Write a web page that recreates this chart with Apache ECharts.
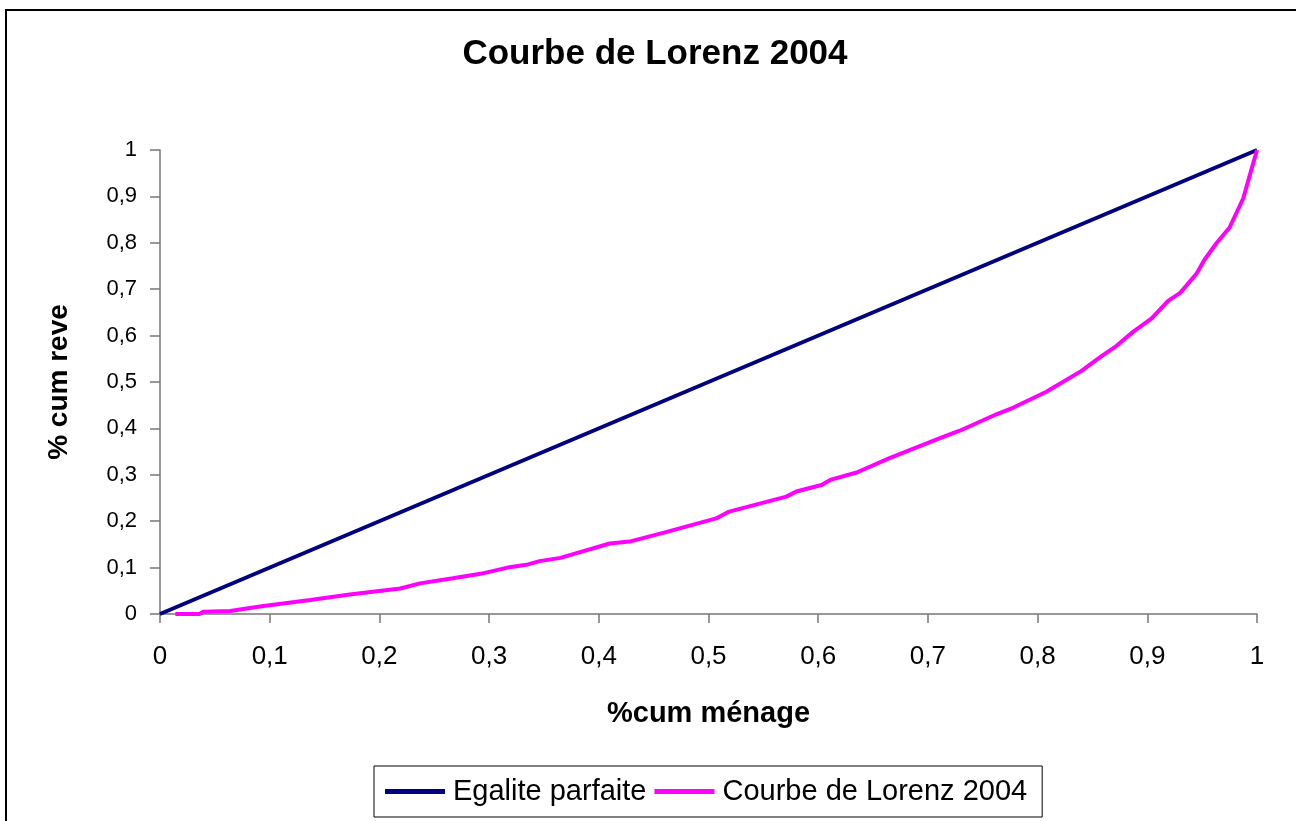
<!DOCTYPE html>
<html>
<head>
<meta charset="utf-8">
<title>Courbe de Lorenz 2004</title>
<script src="https://cdn.jsdelivr.net/npm/echarts@6/dist/echarts.min.js"></script>
<style>
  html, body { margin: 0; padding: 0; background: #fff; }
  #lorenzChart { width: 1296px; height: 821px; }
</style>
</head>
<body>
<div id="lorenzChart"></div>
<script>
// valeurs
const egaliteX = [0, 1];
const egaliteY = [0, 1];

const lorenzX = [0.014, 0.036, 0.0395, 0.064, 0.091, 0.137, 0.173, 0.219, 0.237, 0.267,
  0.295, 0.317, 0.334, 0.346, 0.365, 0.41, 0.428, 0.462, 0.507, 0.518,
  0.571, 0.58, 0.603, 0.611, 0.635, 0.665, 0.711, 0.729, 0.763, 0.778,
  0.808, 0.84, 0.858, 0.872, 0.887, 0.904, 0.919, 0.93, 0.945, 0.952,
  0.963, 0.975, 0.9875, 0.993, 1.0];
const lorenzY = [0, 0, 0.005, 0.0065, 0.016, 0.03, 0.042, 0.055, 0.066, 0.077,
  0.088, 0.1, 0.106, 0.114, 0.121, 0.152, 0.156, 0.177, 0.206, 0.22,
  0.253, 0.264, 0.278, 0.289, 0.305, 0.336, 0.379, 0.395, 0.431, 0.445,
  0.479, 0.524, 0.555, 0.578, 0.608, 0.637, 0.675, 0.692, 0.734, 0.763,
  0.799, 0.833, 0.896, 0.942, 1.0];

const seriesNames = ['Egalite parfaite', 'Courbe de Lorenz 2004'];
const FONT = 'Arial, "Liberation Sans", sans-serif';

function pairs(xs, ys) {
  return xs.map((x, i) => [x, ys[i]]);
}

// 0.1 -> "0,1"
function virgule(v) {
  return String(Math.round(v * 10) / 10).replace('.', ',');
}

const chart = echarts.init(document.getElementById('lorenzChart'));
chart.setOption({
  backgroundColor: '#fff',
  animation: false,
  title: {
    text: 'Courbe de Lorenz 2004',
    left: 650,
    top: 32,
    textAlign: 'center',
    textStyle: { fontFamily: FONT, fontSize: 35, fontWeight: 'bold', color: '#000' },
  },
  graphic: [
    {
      type: 'rect',
      shape: { x: 6, y: 10, width: 1400, height: 1000 },
      style: { fill: 'none', stroke: '#000', lineWidth: 2 },
      silent: true,
    },
  ],
  legend: {
    data: seriesNames,
    left: 374,
    top: 766,
    padding: [11, 15, 11, 11],
    itemGap: 8,
    itemWidth: 60,
    itemHeight: 5,
    icon: 'rect',
    borderColor: '#000',
    borderWidth: 1,
    textStyle: { fontFamily: FONT, fontSize: 29, color: '#000', padding: [0, 0, 0, 3] },
  },
  grid: {
    left: 160,
    right: 39,
    top: 150,
    bottom: 207,
  },
  xAxis: {
    type: 'value',
    min: 0,
    max: 1,
    interval: 0.1,
    name: '%cum ménage',
    nameLocation: 'middle',
    nameGap: 85,
    nameTextStyle: { fontFamily: FONT, fontSize: 29, fontWeight: 'bold', color: '#000' },
    axisLine: { show: true, lineStyle: { color: '#777', width: 1.5 } },
    axisTick: { show: true, length: 9, lineStyle: { color: '#777', width: 1.5 } },
    axisLabel: { formatter: virgule, margin: 30, fontFamily: FONT, fontSize: 26, color: '#000' },
    splitLine: { show: false },
  },
  yAxis: {
    type: 'value',
    min: 0,
    max: 1,
    interval: 0.1,
    name: '% cum reve',
    nameLocation: 'middle',
    nameGap: 87,
    nameTextStyle: { fontFamily: FONT, fontSize: 28, fontWeight: 'bold', color: '#000' },
    axisLine: { show: true, lineStyle: { color: '#777', width: 1.5 } },
    axisTick: { show: true, length: 10, lineStyle: { color: '#777', width: 1.5 } },
    axisLabel: { formatter: virgule, margin: 23, fontFamily: FONT, fontSize: 22, color: '#000' },
    splitLine: { show: false },
  },
  series: [
    {
      name: seriesNames[0],
      type: 'line',
      data: pairs(egaliteX, egaliteY),
      showSymbol: false,
      color: '#000080',
      lineStyle: { width: 4, color: '#000080' },
    },
    {
      name: seriesNames[1],
      type: 'line',
      data: pairs(lorenzX, lorenzY),
      showSymbol: false,
      color: '#FF00FF',
      lineStyle: { width: 4, color: '#FF00FF' },
    },
  ],
});
</script>
</body>
</html>
